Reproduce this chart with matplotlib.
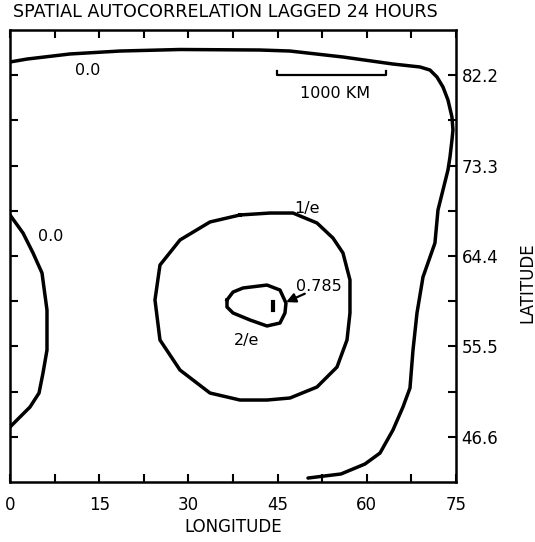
import matplotlib
matplotlib.use('Agg')
import matplotlib.pyplot as plt

# contour 0.0 along the top and right side
zero_top_lon = [0.0, 2.86, 10.09, 18.50, 28.59, 42.04, 47.08, 56.0, 64.40, 68.94, 70.62,
                71.80, 72.81, 73.65, 74.32, 74.49, 74.32, 73.99, 73.65, 72.81, 71.97,
                71.46, 69.45, 68.44, 67.77, 67.26, 66.08, 64.40, 62.22, 59.69, 55.66, 50.11]
zero_top_lat = [83.50, 83.79, 84.29, 84.58, 84.73, 84.68, 84.58, 83.99, 83.30, 83.01, 82.71,
                82.02, 81.04, 79.76, 78.08, 76.81, 75.82, 74.15, 72.87, 70.90, 68.93,
                65.68, 62.33, 58.79, 55.14, 51.40, 49.53, 47.27, 45.00, 43.92, 42.94, 42.54]

# contour 0.0 on the left edge
zero_left_lon = [0.0, 2.19, 3.87, 5.38, 6.22, 6.22, 5.55, 4.88, 3.36, 1.68, 0.0]
zero_left_lat = [68.44, 66.66, 64.70, 62.73, 59.08, 55.14, 52.88, 50.91, 49.53, 48.55, 47.56]

# contour 1/e
inv_e_lon = [38.68, 43.72, 47.59, 51.62, 54.31, 55.99, 57.17, 57.17, 56.67, 54.99, 51.62,
             47.08, 43.21, 38.68, 33.63, 28.59, 25.22, 24.38, 25.22, 28.59, 33.63, 38.68]
inv_e_lat = [68.44, 68.63, 68.63, 67.65, 66.17, 64.70, 62.04, 58.79, 56.13, 53.47, 51.50,
             50.42, 50.22, 50.22, 50.91, 53.17, 56.13, 60.07, 63.51, 65.98, 67.75, 68.44]

# contour 2/e
two_e_lon = [36.49, 37.50, 39.18, 43.21, 45.40, 46.41, 46.24, 45.40, 43.21, 40.36, 37.50, 36.49, 36.49]
two_e_lat = [60.07, 60.85, 61.25, 61.54, 61.05, 59.77, 58.79, 57.80, 57.51, 58.10, 58.79, 59.38, 60.07]

# peak value
peak_lon = [44.2, 44.2]
peak_lat = [59.1, 59.9]
peak_label = '0.785'

# scale bar (1000 km)
bar_lon = [44.9, 44.9, 63.2, 63.2]
bar_lat = [82.6, 82.2, 82.2, 82.6]

x_major = [0, 15, 30, 45, 60, 75]
x_minor = [7.5, 22.5, 37.5, 52.5, 67.5]
y_major = [46.6, 55.5, 64.4, 73.3, 82.2]
y_minor = [51.05, 59.95, 68.85, 77.75]

fig = plt.figure(figsize=(5.35, 5.42), dpi=100)
ax = fig.add_axes([10 / 535, 60 / 542, 446 / 535, 452 / 542])

lw = 2.5
ax.plot(zero_top_lon, zero_top_lat, color='black', lw=lw, solid_capstyle='round')
ax.plot(zero_left_lon, zero_left_lat, color='black', lw=lw, solid_capstyle='round')
ax.plot(inv_e_lon, inv_e_lat, color='black', lw=lw)
ax.plot(two_e_lon, two_e_lat, color='black', lw=lw)
ax.plot(peak_lon, peak_lat, color='black', lw=3)
ax.plot(bar_lon, bar_lat, color='black', lw=1.6)

fs = 11.5
ax.text(13.1, 82.7, '0.0', ha='center', va='center', fontsize=fs)
ax.text(6.9, 66.3, '0.0', ha='center', va='center', fontsize=fs)
ax.text(50.0, 69.1, '1/e', ha='center', va='center', fontsize=fs)
ax.text(39.7, 56.1, '2/e', ha='center', va='center', fontsize=fs)
ax.text(52.0, 61.35, peak_label, ha='center', va='center', fontsize=fs)
ax.text(54.6, 80.4, '1000 KM', ha='center', va='center', fontsize=fs)
ax.annotate('', xy=(46.0, 59.75), xytext=(50.0, 60.8),
            arrowprops=dict(arrowstyle='-|>', color='black', lw=1.6, mutation_scale=14))

ax.set_xlim(0, 75)
ax.set_ylim(42.15, 86.65)
ax.set_xticks(x_major)
ax.set_xticks(x_minor, minor=True)
ax.set_yticks(y_major)
ax.set_yticks(y_minor, minor=True)
ax.set_xticklabels([str(v) for v in x_major])
ax.set_yticklabels([f'{v:.1f}' for v in y_major])
ax.tick_params(which='both', direction='in', top=True, right=True, left=True, bottom=True,
               labelleft=False, labelright=True, length=6, width=1.5, labelsize=12)
ax.tick_params(axis='x', which='major', pad=10)
ax.tick_params(axis='y', which='major', pad=4)
for s in ax.spines.values():
    s.set_linewidth(1.8)

fig.text(13 / 535, 1 - 12 / 542, 'SPATIAL AUTOCORRELATION LAGGED 24 HOURS',
         ha='left', va='center', fontsize=12.6)
fig.text(527 / 535, 1 - 283 / 542, 'LATITUDE', rotation=90, ha='center', va='center', fontsize=12)
fig.text(233 / 535, 1 - 527 / 542, 'LONGITUDE', ha='center', va='center', fontsize=12)

fig.savefig('out.png', dpi=100)
